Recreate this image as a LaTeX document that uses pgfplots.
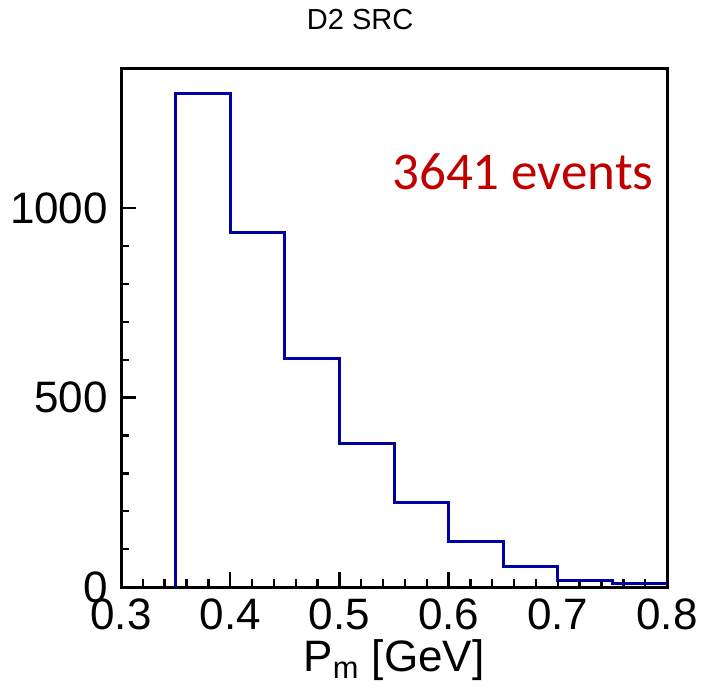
\documentclass[border=0pt]{standalone}
\usepackage{pgfplots}
\pgfplotsset{compat=1.18}
\usepackage{fontspec}
\setmainfont{Liberation Sans}
\newfontfamily\calib{Carlito}
\definecolor{histblue}{RGB}{0,0,160}
\definecolor{evred}{RGB}{192,0,0}
\begin{document}
\begin{tikzpicture}
\begin{axis}[
  at={(0,0)}, anchor=south west,
  scale only axis,
  width=273pt, height=259.5pt,
  xmin=0.3, xmax=0.8, ymin=0, ymax=1370,
  axis line style={line width=1.5pt},
  xtick={0.3,0.4,0.5,0.6,0.7,0.8},
  xticklabels={0.3,0.4,0.5,0.6,0.7,0.8},
  minor x tick num=4,
  ytick={0,500,1000},
  yticklabels={0,500,1000},
  minor y tick num=4,
  tick align=inside,
  xtick pos=bottom, ytick pos=left,
  major tick length=7.5pt, minor tick length=3.8pt,
  every tick/.style={line width=1.2pt, black},
  /pgf/number format/assume math mode=true,
  /pgf/number format/1000 sep={},
  tick label style={font=\fontsize{22}{24}\selectfont},
  yticklabel style={xshift=-3pt},
  xticklabel style={yshift=-2.5pt},
  scaled y ticks=false,
  xlabel={P$_{\mathrm{m}}$ [GeV]},
  xlabel style={font=\fontsize{22}{24}\selectfont, yshift=2pt},
  clip=false,
]
\addplot[const plot mark left, histblue, line width=1.5pt] coordinates {
 (0.35,0) (0.35,1302) (0.40,935) (0.45,604) (0.50,380) (0.55,222)
 (0.60,121) (0.65,55) (0.70,18) (0.75,8) (0.80,8)
};
\node[font=\calib\fontsize{26.5}{28}\selectfont, text=evred] at (axis cs:0.668,1095) {3641 events};
\node[font=\fontsize{14.5}{16}\selectfont] at (axis cs:0.519,1498) {D2 SRC};
\end{axis}
\useasboundingbox (-60.5pt,-53pt) rectangle (292pt,293.5pt);
\end{tikzpicture}
\end{document}
